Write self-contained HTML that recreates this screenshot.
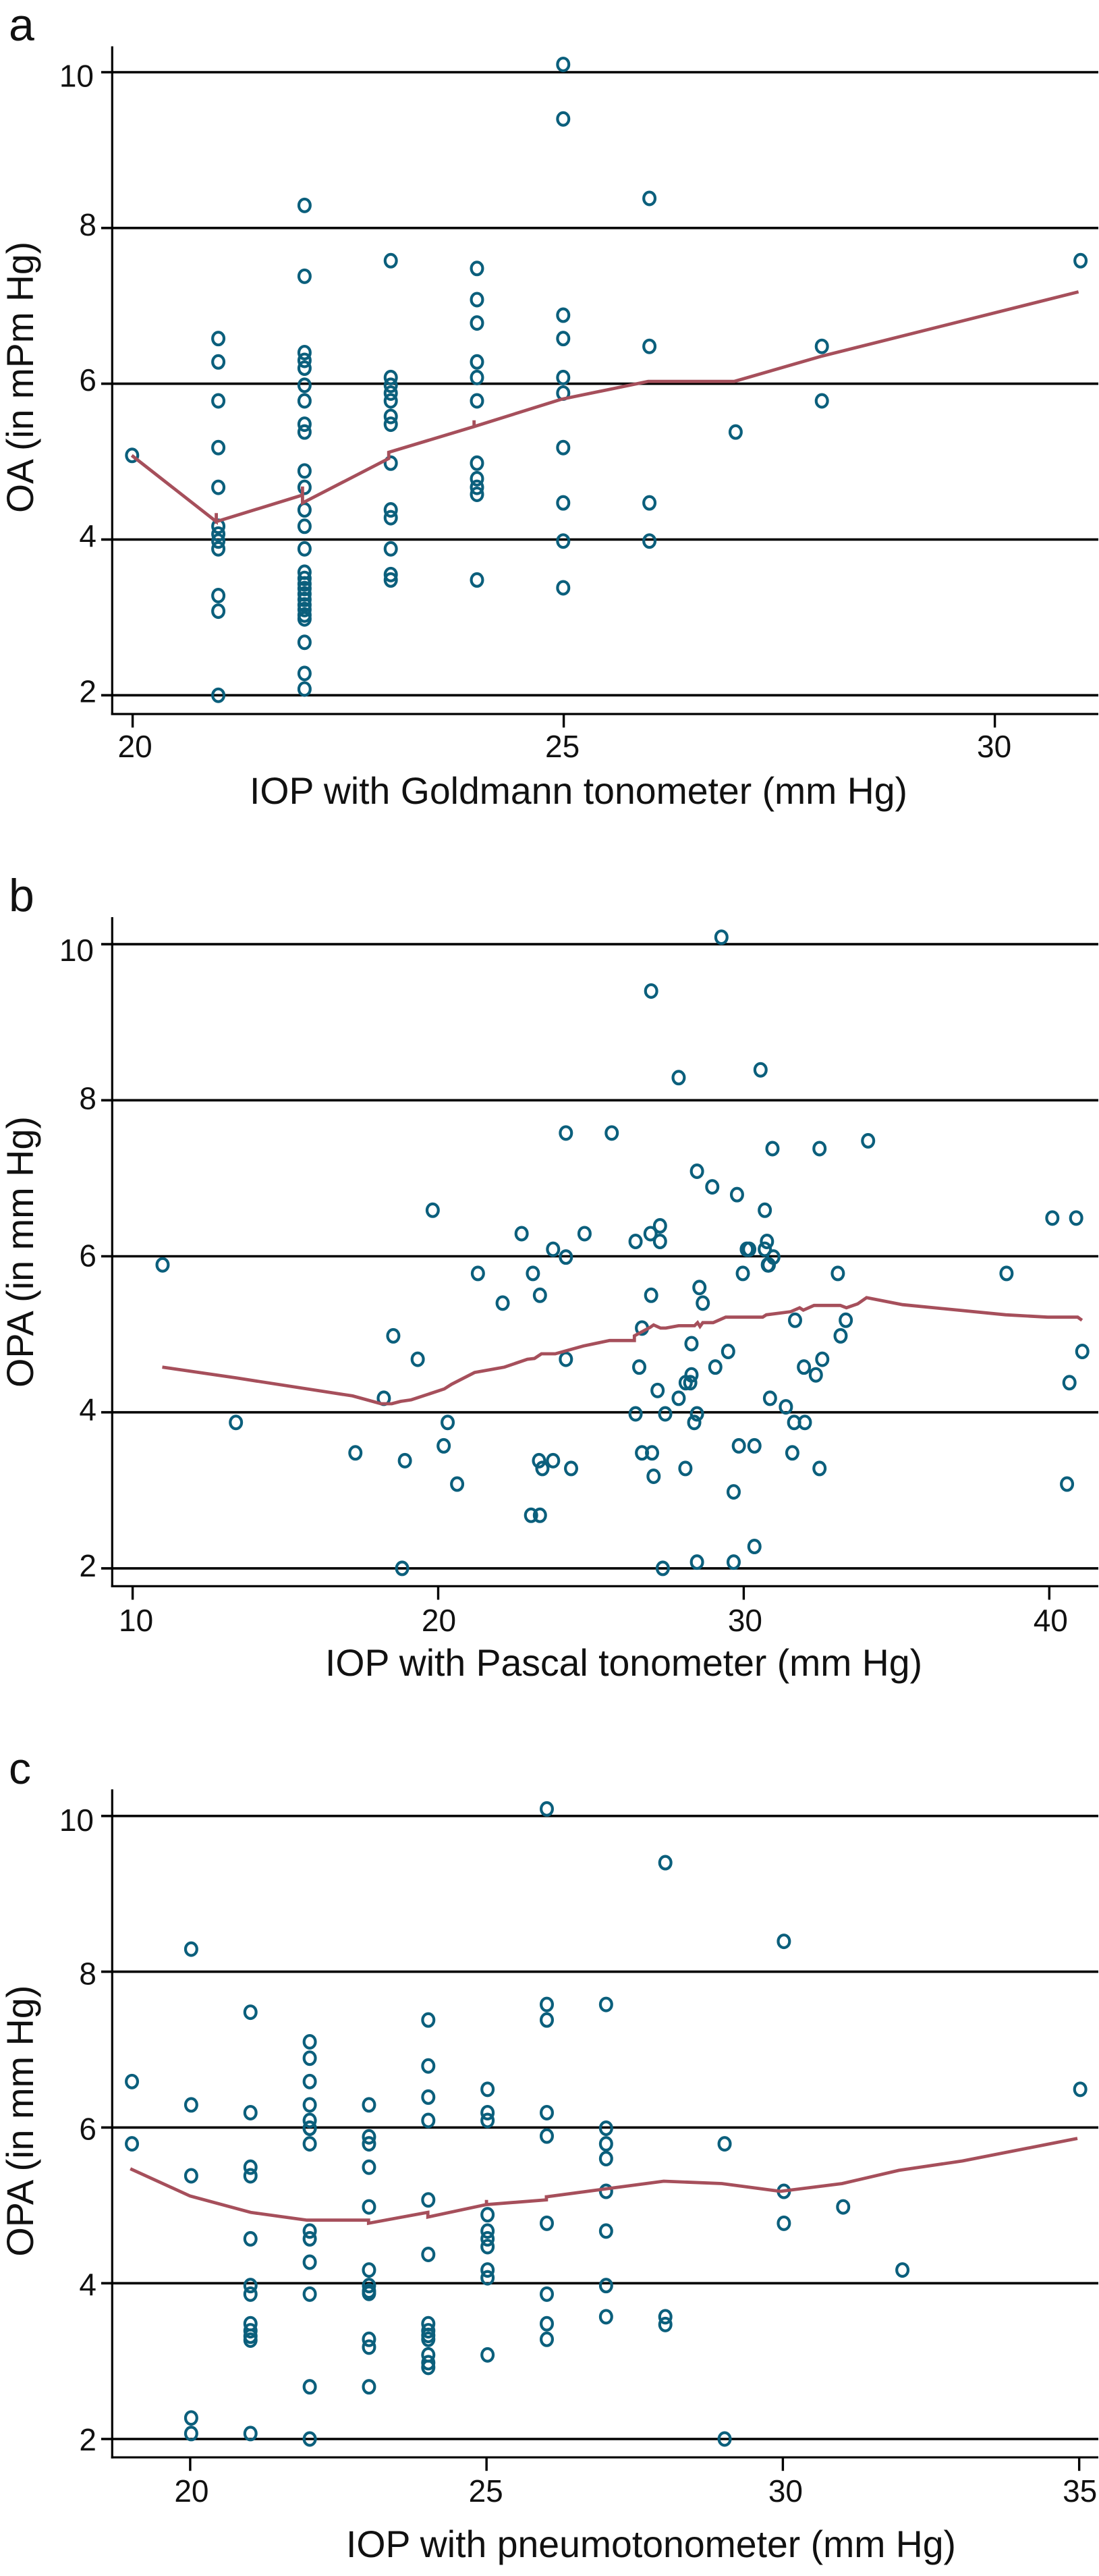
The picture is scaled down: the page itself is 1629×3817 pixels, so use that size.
<!DOCTYPE html>
<html lang="en">
<head>
<meta charset="utf-8">
<title>Ocular pulse amplitude versus IOP</title>
<style>
html,body{margin:0;padding:0;background:#fff;}
svg{display:block;}
text{font-family:"Liberation Sans",Arial,sans-serif;fill:#111;}
</style>
</head>
<body>
<svg id="figure" xmlns="http://www.w3.org/2000/svg" width="1629" height="3817" viewBox="0 0 1629 3817"></svg>
<script>
// ---------- shared ticks ----------
const yTickValues = [2, 4, 6, 8, 10];
const yTickLabels = ["2", "4", "6", "8", "10"];

// ---------- panel a ----------
const aXTicks = [20, 25, 30];
const aXTickLabels = ["20", "25", "30"];
const aPointX = [
  20,
  21,21,21,21,21,21,21,21,21,21,21,21,
  22,22,22,22,22,22,22,22,22,22,22,22,22,22,22,22,22,22,22,22,22,22,22,22,22,22,22,
  23,23,23,23,23,23,23,23,23,23,23,23,23,
  24,24,24,24,24,24,24,24,24,24,24,
  25,25,25,25,25,25,25,25,25,25,
  26,26,26,26,
  27,
  28,28,
  31
];
const aPointY = [
  5.08,
  6.58,6.28,5.78,5.18,4.67,4.17,4.07,3.98,3.88,3.28,3.08,2.0,
  8.29,7.38,6.4,6.3,6.2,5.98,5.78,5.48,5.38,4.88,4.67,4.38,4.17,3.88,3.58,3.5,3.43,3.37,3.3,3.23,3.16,3.1,3.03,2.98,2.68,2.28,2.08,
  7.58,6.08,5.98,5.88,5.78,5.58,5.48,4.98,4.38,4.28,3.88,3.55,3.48,
  7.48,7.08,6.78,6.28,6.08,5.78,4.98,4.78,4.67,4.58,3.48,
  10.1,9.4,6.88,6.58,6.08,5.88,5.18,4.47,3.98,3.38,
  8.38,6.48,4.47,3.98,
  5.38,
  6.48,5.78,
  7.58
];
const aLineX = [19.99,20.97,20.97,20.97,21.97,21.97,21.97,22.97,22.97,22.97,23.96,23.96,23.96,24.97,25.98,26.98,27.98,30.97];
const aLineY = [5.08,4.23,4.34,4.23,4.57,4.68,4.47,5.04,5.12,5.12,5.45,5.53,5.45,5.8,6.03,6.03,6.35,7.18];

// ---------- panel b ----------
const bXTicks = [10, 20, 30, 40];
const bXTickLabels = ["10", "20", "30", "40"];
const bPointX = [
  19.82,22.73,23.76,10.98,21.3,23.1,23.33,22.11,
  29.27,26.97,30.55,27.87,24.18,25.68,30.94,32.48,34.07,28.47,28.97,29.78,30.69,40.1,40.88,
  27.26,26.95,24.79,26.46,27.26,24.18,30.1,30.18,30.76,30.69,30.97,30.82,30.79,29.97,33.08,38.6,28.55,26.97,28.66,
  26.67,28.29,24.18,26.58,29.49,29.07,28.29,28.1,28.25,27.18,27.87,26.46,27.43,28.47,28.38,
  31.68,33.34,33.17,32.57,31.97,32.36,30.86,31.38,31.65,32.0,29.84,30.35,31.59,26.67,27.0,28.09,27.05,32.48,
  23.76,24.35,23.41,23.3,29.67,40.58,40.66,41.08,30.35,28.47,29.67,27.35,
  18.53,19.33,18.22,13.38,20.31,17.29,18.91,20.18,20.62,23.04,23.33,18.82
];
const bPointY = [
  6.59,6.29,6.09,5.89,5.78,5.78,5.5,5.4,
  10.09,9.4,8.39,8.29,7.58,7.58,7.38,7.38,7.48,7.09,6.89,6.79,6.59,6.49,6.49,
  6.39,6.29,6.29,6.19,6.19,5.99,6.09,6.09,6.19,6.09,5.99,5.89,5.89,5.78,5.78,5.78,5.6,5.5,5.4,
  5.08,4.88,4.68,4.58,4.78,4.58,4.48,4.38,4.38,4.28,4.18,3.98,3.98,3.98,3.87,
  5.18,5.18,4.98,4.68,4.58,4.48,4.18,4.07,3.87,3.87,3.57,3.57,3.48,3.48,3.48,3.28,3.18,3.28,
  3.38,3.28,3.28,3.38,2.98,3.08,4.38,4.78,2.28,2.08,2.08,2.0,
  4.98,4.68,4.18,3.87,3.87,3.48,3.38,3.57,3.08,2.68,2.68,2.0
];
const bLineX = [10.97,13.4,17.2,18.13,18.48,18.77,19.12,20.2,20.44,21.19,22.17,22.92,23.15,23.38,23.83,24.75,25.61,26.42,26.42,26.94,27.05,27.28,27.45,27.87,28.39,28.49,28.57,28.66,29.0,29.41,30.62,30.74,31.54,31.83,31.95,32.3,33.16,33.36,33.73,34.02,35.2,38.57,39.95,40.93,41.07];
const bLineY = [4.58,4.44,4.21,4.11,4.11,4.14,4.16,4.3,4.36,4.51,4.58,4.68,4.69,4.75,4.75,4.85,4.92,4.92,4.98,5.09,5.12,5.08,5.08,5.11,5.11,5.15,5.1,5.15,5.15,5.22,5.22,5.25,5.29,5.34,5.31,5.37,5.37,5.34,5.39,5.47,5.38,5.25,5.22,5.22,5.18];

// ---------- panel c ----------
const cXTicks = [20, 25, 30, 35];
const cXTickLabels = ["20", "25", "30", "35"];
const cPointX = [
  19,19,
  20,20,20,20,20,
  21,21,21,21,21,21,21,21,21,21,21,21,
  22,22,22,22,22,22,22,22,22,22,22,22,22,22,
  23,23,23,23,23,23,23,23,23,23,23,23,
  24,24,24,24,24,24,24,24,24,24,24,24,24,
  25,25,25,25,25,25,25,25,25,25,
  26,26,26,26,26,26,26,26,26,
  27,27,27,27,27,27,27,27,
  28,28,28,
  29,29,
  30,30,30,
  31,
  32,
  35
];
const cPointY = [
  6.59,5.79,
  8.29,6.29,5.38,2.27,2.07,
  7.48,6.19,5.49,5.38,4.57,3.97,3.86,3.48,3.39,3.32,3.27,2.07,
  7.1,6.89,6.59,6.29,6.09,5.99,5.79,4.67,4.57,4.27,3.86,2.67,2.0,5.99,
  6.29,5.88,5.79,5.49,4.98,4.17,3.97,3.87,3.28,3.18,2.67,3.9,
  7.38,6.79,6.39,6.09,5.07,4.37,3.48,3.39,3.33,3.28,3.08,2.98,2.92,
  6.49,6.19,6.09,4.88,4.67,4.57,4.47,4.17,4.07,3.08,
  10.09,7.58,7.38,6.19,5.89,4.77,3.86,3.48,3.28,
  7.58,5.99,5.79,5.6,5.18,4.67,3.97,3.57,
  9.4,3.57,3.47,
  5.79,2.0,
  8.39,5.18,4.77,
  4.98,
  4.17,
  6.49
];
const cLineX = [18.99,20.0,21.02,21.97,23.01,23.01,24.01,24.01,25.0,25.0,25.0,26.01,26.01,26.01,26.99,27.99,28.97,29.96,31.0,31.96,33.03,34.97];
const cLineY = [5.47,5.12,4.91,4.81,4.81,4.77,4.91,4.85,5.01,5.07,5.01,5.07,5.13,5.11,5.21,5.31,5.28,5.18,5.28,5.45,5.57,5.86];

// ---------- axis helpers ----------
const NS = "http://www.w3.org/2000/svg";
const figure = document.getElementById("figure");

function shape(parent, tag, props) {
  const node = document.createElementNS(NS, tag);
  Object.keys(props).forEach(function (k) { node.setAttribute(k, props[k]); });
  parent.appendChild(node);
  return node;
}

function drawPanel(p) {
  const sx = function (v) { return p.x0 + (v - p.xBase) * p.xUnit; };
  const sy = function (v) { return p.y2 - (v - 2) * p.yUnit; };
  const right = 1628;
  const g = shape(figure, "g", {});
  
  

  const letter = shape(g, "text", { x: 13, y: p.letterY, "font-size": p.letterSize });
  letter.textContent = p.id;
  
  

  yTickValues.forEach(function (v, i) {
    const grid = shape(g, "line", { x1: 150, x2: right, y1: sy(v), y2: sy(v), stroke: "#000", "stroke-width": 3.6 });
    
    
    const lab = shape(g, "text", { x: v === 10 ? 139 : 143, y: sy(v) + p.yLabelDy[i], "font-size": 46, "text-anchor": "end" });
    lab.textContent = yTickLabels[i];
    
    
  });

  const yAxis = shape(g, "line", { x1: 166.3, x2: 166.3, y1: p.axisTop, y2: p.axisBottom + 1.5, stroke: "#000", "stroke-width": 3.2 });
  
  
  const xAxis = shape(g, "line", { x1: 164.7, x2: right, y1: p.axisBottom, y2: p.axisBottom, stroke: "#000", "stroke-width": 3.2 });
  
  

  p.xTicks.forEach(function (v, i) {
    const tick = shape(g, "line", { x1: sx(v), x2: sx(v), y1: p.axisBottom, y2: p.axisBottom + 20, stroke: "#000", "stroke-width": 3.4 });
    
    
    const lab = shape(g, "text", { x: sx(v) + p.xLabelDx[i], y: p.xTickBaseline, "font-size": 46, "text-anchor": "middle" });
    lab.textContent = p.xTickLabels[i];
    
    
  });

  const xTitle = shape(g, "text", { x: p.xTitleStart, y: p.xTitleBaseline, "font-size": 56, textLength: p.xTitleWidth, lengthAdjust: "spacingAndGlyphs" });
  xTitle.textContent = p.xTitle;
  
  

  const yTitle = shape(g, "text", { x: 0, y: 0, "font-size": 56, textLength: 402, lengthAdjust: "spacingAndGlyphs", transform: "translate(49," + p.yTitleStart + ") rotate(-90)" });
  yTitle.textContent = p.yTitle;
  
  

  p.pointX.forEach(function (v, i) {
    const dot = shape(g, "ellipse", { cx: sx(v) + p.markerDx, cy: sy(p.pointY[i]), rx: 8.4, ry: 9.4, fill: "none", stroke: "#0b5f7c", "stroke-width": 4.2 });
    
    
  });

  const pts = p.lineX.map(function (v, i) { return sx(v).toFixed(1) + "," + sy(p.lineY[i]).toFixed(1); }).join(" ");
  const curve = shape(g, "polyline", { points: pts, fill: "none", stroke: "#a64f5b", "stroke-width": 4.8, "stroke-linejoin": "miter" });
  
  
}

drawPanel({
  id: "a", x0: 196.6, xBase: 20, xUnit: 127.8, y2: 1030.2, yUnit: 115.4,
  axisTop: 68.6, axisBottom: 1058, letterY: 60, letterSize: 68,
  xTicks: aXTicks, xTickLabels: aXTickLabels, xLabelDx: [3.5, -2, -1], xTickBaseline: 1122,
  yLabelDy: [10.5, 10.5, 10.5, 11, 21.6],
  xTitle: "IOP with Goldmann tonometer (mm Hg)", xTitleStart: 370, xTitleBaseline: 1191, xTitleWidth: 975,
  yTitle: "OA (in mPm Hg)", yTitleStart: 760,
  pointX: aPointX, pointY: aPointY, lineX: aLineX, lineY: aLineY, markerDx: -0.8
});
drawPanel({
  id: "b", x0: 196.6, xBase: 10, xUnit: 45.29, y2: 2323.9, yUnit: 115.6,
  axisTop: 1359, axisBottom: 2350.4, letterY: 1350, letterSize: 68,
  xTicks: bXTicks, xTickLabels: bXTickLabels, xLabelDx: [5, 1, 2, 2], xTickBaseline: 2417,
  yLabelDy: [12, 12, 15, 13, 25],
  xTitle: "IOP with Pascal tonometer (mm Hg)", xTitleStart: 482, xTitleBaseline: 2483, xTitleWidth: 885,
  yTitle: "OPA (in mm Hg)", yTitleStart: 2056,
  pointX: bPointX, pointY: bPointY, lineX: bLineX, lineY: bLineY, markerDx: 0
});
drawPanel({
  id: "c", x0: 281.9, xBase: 20, xUnit: 87.85, y2: 3614, yUnit: 115.4,
  axisTop: 2651.4, axisBottom: 3641.2, letterY: 2643, letterSize: 66,
  xTicks: cXTicks, xTickLabels: cXTickLabels, xLabelDx: [2, -1, 4, 1], xTickBaseline: 3707,
  yLabelDy: [17, 18, 18, 19, 22],
  xTitle: "IOP with pneumotonometer (mm Hg)", xTitleStart: 513, xTitleBaseline: 3789, xTitleWidth: 904,
  yTitle: "OPA (in mm Hg)", yTitleStart: 3343.6,
  pointX: cPointX, pointY: cPointY, lineX: cLineX, lineY: cLineY, markerDx: 1.5
});
</script>
</body>
</html>
